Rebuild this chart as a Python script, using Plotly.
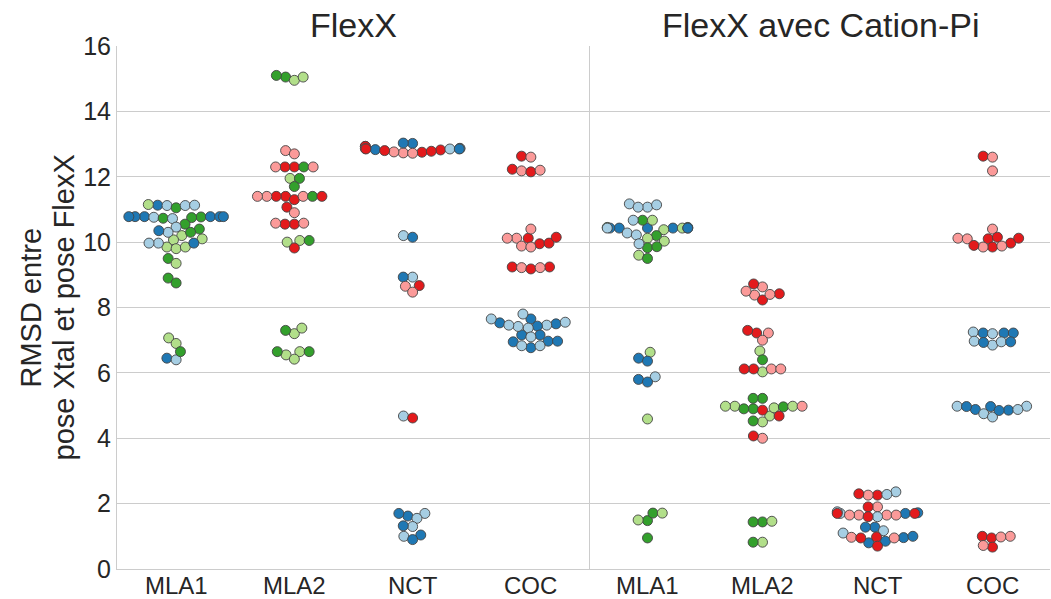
import numpy as np
import plotly.graph_objects as go

# ---------------- data ----------------
categories = ["MLA1", "MLA2", "NCT", "COC"]
panel_titles = ["FlexX", "FlexX avec Cation-Pi"]
y_title_lines = ["RMSD entre", "pose Xtal et pose FlexX"]
y_ticks = [0, 2, 4, 6, 8, 10, 12, 14, 16]

hue_colors = {
    "bleu_clair": "#a6cee3",
    "bleu": "#1f78b4",
    "vert_clair": "#b2df8a",
    "vert": "#33a02c",
    "rose": "#fb9a99",
    "rouge": "#e31a1c",
}

# Panel 1 : FlexX
flexx_mla1 = {
    "bleu": [11.13, 10.78, 10.78, 10.78, 10.78, 10.78, 10.78, 10.35, 9.97, 6.45],
    "bleu_clair": [11.12, 11.12, 11.13, 10.76, 10.72, 10.46, 10.3, 9.97, 9.97, 6.4],
    "vert": [11.05, 10.77, 10.75, 10.73, 10.55, 10.4, 10.3, 9.5, 8.9, 8.75, 6.65],
    "vert_clair": [11.15, 10.2, 10.07, 10.1, 9.85, 9.8, 9.85, 9.35, 7.07, 6.9],
}
flexx_mla2 = {
    "vert": [15.05, 15.1, 12.3, 11.95, 11.7, 11.4, 10.05, 7.3, 6.65, 6.65],
    "vert_clair": [14.95, 15.05, 11.95, 10.0, 10.05, 7.2, 7.37, 6.65, 6.55, 6.42],
    "rose": [12.8, 12.7, 12.3, 12.3, 11.4, 11.4, 11.4, 10.9, 10.58, 10.58],
    "rouge": [12.3, 12.3, 11.4, 11.3, 11.4, 11.4, 11.07, 10.55, 10.55, 9.82],
}
flexx_nct = {
    "bleu_clair": [12.87, 12.86, 12.85, 10.2, 8.93, 4.68, 1.7, 1.55, 1.3, 1.0],
    "bleu": [12.83, 13.02, 13.03, 12.85, 10.15, 8.93, 1.62, 1.7, 1.32, 1.04, 0.9],
    "rouge": [12.82, 12.75, 12.93, 12.78, 12.8, 12.85, 8.67, 4.62],
    "rose": [12.73, 12.93, 12.72, 12.76, 12.86, 8.65, 8.47],
}
flexx_coc = {
    "rouge": [12.63, 12.23, 12.15, 10.12, 9.95, 9.97, 10.15, 9.24, 9.24, 9.18],
    "rose": [12.6, 12.18, 12.2, 10.4, 10.12, 10.12, 9.88, 9.85, 9.22, 9.22],
    "bleu": [7.65, 7.53, 7.5, 7.43, 7.16, 7.16, 6.95, 6.77, 6.97, 6.97],
    "bleu_clair": [7.8, 7.65, 7.46, 7.37, 7.42, 7.46, 7.55, 7.1, 6.83, 6.83],
}

# Panel 2 : FlexX avec Cation-Pi
cationpi_mla1 = {
    "bleu_clair": [11.17, 11.07, 11.07, 11.14, 10.67, 10.43, 10.28, 10.22, 9.95, 5.88],
    "bleu": [10.43, 10.43, 10.43, 10.43, 10.43, 10.43, 6.45, 6.36, 5.8, 5.72],
    "vert": [10.67, 10.45, 10.45, 10.2, 9.83, 9.86, 9.5, 1.48, 1.71, 0.95],
    "vert_clair": [10.67, 10.38, 10.43, 10.12, 10.03, 9.6, 6.63, 4.59, 1.5, 1.71],
}
cationpi_mla2 = {
    "rose": [8.63, 8.38, 8.5, 8.4, 7.22, 7.0, 6.12, 6.12, 4.98, 4.0],
    "rouge": [8.72, 8.23, 8.42, 7.22, 7.3, 6.12, 6.12, 4.68, 4.86, 4.07],
    "vert_clair": [6.67, 6.03, 4.68, 4.93, 4.5, 4.98, 4.98, 4.98, 1.46, 0.82],
    "vert": [6.4, 5.22, 5.22, 4.96, 4.9, 4.9, 4.53, 1.44, 1.44, 0.82],
}
cationpi_nct = {
    "bleu_clair": [2.36, 2.28, 1.7, 1.6, 1.75, 1.17, 1.1],
    "bleu": [1.7, 1.72, 1.28, 1.28, 0.85, 0.96, 0.8, 1.0],
    "rouge": [2.26, 2.3, 1.9, 1.7, 1.6, 1.7, 0.98, 0.7, 0.95],
    "rose": [2.26, 1.9, 1.65, 1.65, 1.65, 1.65, 0.95, 0.97],
}
cationpi_coc = {
    "rouge": [12.63, 9.97, 10.1, 10.12, 10.15, 9.85, 9.9, 1.0, 0.95, 0.67],
    "rose": [12.6, 12.18, 10.4, 10.12, 10.1, 9.85, 9.88, 1.0, 0.98, 0.72],
    "bleu_clair": [7.25, 7.2, 6.97, 6.85, 6.95, 4.98, 4.75, 4.65, 4.88, 4.98],
    "bleu": [7.22, 7.22, 7.22, 6.93, 6.95, 4.88, 4.86, 4.97, 4.85, 4.97],
}

panels = [
    [flexx_mla1, flexx_mla2, flexx_nct, flexx_coc],
    [cationpi_mla1, cationpi_mla2, cationpi_nct, cationpi_coc],
]

# ---------------- layout geometry ----------------
W, H = 1051, 599
M_L, M_R, M_T, M_B = 117, 1, 46, 30
plot_w = W - M_L - M_R
plot_h = H - M_T - M_B
split = (590 - M_L) / plot_w
y_range = [0, 16]
px_per_y = plot_h / (y_range[1] - y_range[0])
MARKER = 10
DIAM = 9.2
FONT = "Liberation Sans, Arial, sans-serif"
TXT = "#262626"


def beeswarm(values, px_per_unit_x, half_width_units):
    """Seaborn-like beeswarm: returns x offsets (data units) for the values."""
    vals = np.asarray(values, dtype=float)
    ypx = vals * px_per_y
    order = np.argsort(ypx, kind="stable")
    placed = []
    offs = np.zeros(len(vals))
    for i in order:
        y = ypx[i]
        neigh = [(x0, y0) for (x0, y0) in placed if abs(y0 - y) < DIAM]
        cands = [0.0]
        for x0, y0 in neigh:
            dx = np.sqrt(DIAM ** 2 - (y - y0) ** 2) * 1.02
            cands += [x0 - dx, x0 + dx]
        cands = sorted(cands, key=lambda c: abs(c))
        chosen = cands[0]
        for c in cands:
            if all((c - x0) ** 2 + (y - y0) ** 2 >= (DIAM ** 2) * 0.999 for x0, y0 in neigh):
                chosen = c
                break
        placed.append((chosen, y))
        offs[i] = chosen
    offs = offs / px_per_unit_x
    return np.clip(offs, -half_width_units, half_width_units)


fig = go.Figure()
domains = [[0, split], [split, 1]]
for p, cats in enumerate(panels):
    dom = domains[p]
    px_per_x = (dom[1] - dom[0]) * plot_w / 4.0
    xaxis = "x" if p == 0 else "x2"
    for ci, data in enumerate(cats):
        vals, cols = [], []
        lists = [(h, list(v)) for h, v in data.items()]
        while any(l for _, l in lists):
            for h, l in lists:
                if l:
                    vals.append(l.pop(0))
                    cols.append(hue_colors[h])
        offs = beeswarm(vals, px_per_x, 0.4 if p == 0 else 0.35)
        fig.add_trace(go.Scatter(
            x=ci + offs, y=vals, mode="markers", xaxis=xaxis, yaxis="y" if p == 0 else "y2",
            marker=dict(size=MARKER, color=cols, line=dict(color="#444444", width=0.9)),
            showlegend=False, hoverinfo="y",
        ))

axis_common = dict(
    range=[-0.5, 3.5], tickvals=[0, 1, 2, 3], showticklabels=False,
    showgrid=False, zeroline=False, showline=True, linecolor="#cccccc", linewidth=1,
    ticks="", automargin=False,
)
fig.update_layout(
    width=W, height=H,
    margin=dict(l=M_L, r=M_R, t=M_T, b=M_B, autoexpand=False),
    paper_bgcolor="white", plot_bgcolor="white",
    xaxis=dict(domain=domains[0], anchor="y", **axis_common),
    xaxis2=dict(domain=domains[1], anchor="y2", **axis_common),
    yaxis=dict(
        range=y_range, tickvals=y_ticks, showgrid=True, gridcolor="#cccccc", gridwidth=1,
        zeroline=False, showline=True, linecolor="#cccccc", ticks="", automargin=False,
        tickfont=dict(family=FONT, size=25, color=TXT),
    ),
    yaxis2=dict(
        range=y_range, tickvals=y_ticks, showgrid=True, gridcolor="#cccccc", gridwidth=1,
        zeroline=False, showline=True, linecolor="#cccccc", ticks="", showticklabels=False,
        anchor="x2", matches="y", automargin=False,
    ),
    font=dict(family=FONT, color=TXT),
)
# category labels under each panel, positioned through the x axes
for p in range(2):
    xref = "x" if p == 0 else "x2"
    for ci, cat in enumerate(categories):
        fig.add_annotation(
            text=cat, x=ci, y=0, xref=xref, yref="paper",
            xanchor="center", yanchor="middle", yshift=-16, showarrow=False,
            font=dict(family=FONT, size=24, color=TXT),
        )
for p, t in enumerate(panel_titles):
    dom = domains[p]
    fig.add_annotation(
        text=t, x=(dom[0] + dom[1]) / 2, y=1, xref="paper", yref="paper",
        yanchor="bottom", xanchor="center", yshift=0, showarrow=False,
        font=dict(family=FONT, size=34, color=TXT),
    )
# y-axis title as two rotated lines
for k, (line, xpx) in enumerate(zip(y_title_lines, [30, 63])):
    fig.add_annotation(
        text=line, x=(xpx - M_L) / plot_w, y=0.5, xref="paper", yref="paper",
        xanchor="center", yanchor="middle", textangle=-90, showarrow=False,
        font=dict(family=FONT, size=29, color=TXT),
    )

fig.write_html("out.html", config={"displayModeBar": False},
               post_script="document.body.style.margin='0';")
